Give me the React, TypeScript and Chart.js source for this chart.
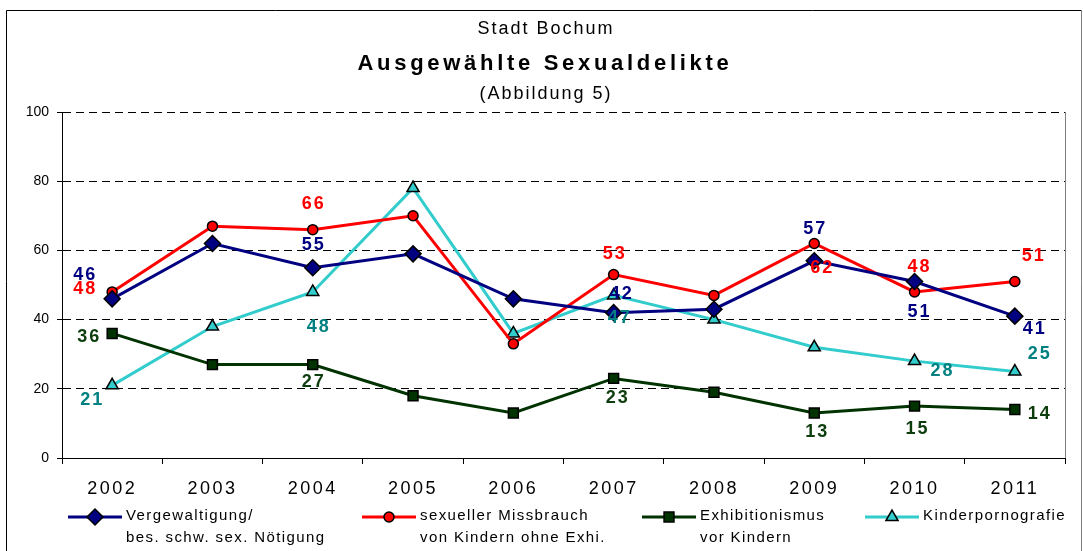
import React, { useEffect, useRef } from 'react';
import { Chart, registerables } from 'chart.js';
Chart.register(...registerables);

const years = ['2002', '2003', '2004', '2005', '2006', '2007', '2008', '2009', '2010', '2011'];
const vergewaltigung = [46, 62, 55, 59, 46, 42, 43, 57, 51, 41];
const missbrauch = [48, 67, 66, 70, 33, 53, 47, 62, 48, 51];
const exhibitionismus = [36, 27, 27, 18, 13, 23, 19, 13, 15, 14];
const kinderpornografie = [21, 38, 48, 78, 36, 47, 40, 32, 28, 25];
const yMin = 0;
const yMax = 100;
const yStep = 20;
const titleLines = ['Stadt Bochum', 'Ausgewählte Sexualdelikte', '(Abbildung 5)'];
const legendLabels = [
  ['Vergewaltigung/', 'bes. schw. sex. Nötigung'],
  ['sexueller Missbrauch', 'von Kindern ohne Exhi.'],
  ['Exhibitionismus', 'vor Kindern'],
  ['Kinderpornografie'],
];
// indices of points that carry a value label
const labelIdxBlue = [0, 2, 5, 7, 8, 9];
const labelIdxRed = [0, 2, 5, 7, 8, 9];
const labelIdxGreen = [0, 2, 5, 7, 8, 9];
const labelIdxCyan = [0, 2, 5, 8, 9];

const FONT = '"Liberation Sans", Arial, sans-serif';

// label placement (style): pixel offsets from the point
const offsBlue: Record<number, [number, number]> = { 0: [-28, -24], 2: [0, -23], 5: [7, -19], 7: [0, -32], 8: [4, 30], 9: [19, 13] };
const offsRed: Record<number, [number, number]> = { 0: [-28, -3], 2: [0, -26], 5: [0, -21], 7: [7, 25], 8: [4, -25], 9: [18, -26] };
const offsGreen: Record<number, [number, number]> = { 0: [-24, 4], 2: [0, 17], 5: [3, 20], 7: [2, 19], 8: [2, 23], 9: [24, 4] };
const offsCyan: Record<number, [number, number]> = { 0: [-21, 15], 2: [5, 35], 5: [5, 23], 8: [27, 10], 9: [24, -17] };

function drawMarker(ctx: CanvasRenderingContext2D, style: string, x: number, y: number, r: number, fill: string) {
  ctx.save();
  ctx.beginPath();
  if (style === 'rectRot') {
    ctx.moveTo(x, y - r); ctx.lineTo(x + r, y); ctx.lineTo(x, y + r); ctx.lineTo(x - r, y); ctx.closePath();
  } else if (style === 'circle') {
    ctx.arc(x, y, r, 0, Math.PI * 2);
  } else if (style === 'rect') {
    const s = r * Math.SQRT1_2;
    ctx.rect(x - s, y - s, 2 * s, 2 * s);
  } else if (style === 'triangle') {
    for (let k = 0; k < 3; k++) {
      const a = (k * 2 * Math.PI) / 3;
      const px = x + Math.sin(a) * r;
      const py = y - Math.cos(a) * r;
      if (k === 0) ctx.moveTo(px, py); else ctx.lineTo(px, py);
    }
    ctx.closePath();
  }
  ctx.fillStyle = fill;
  ctx.fill();
  ctx.lineWidth = 1.5;
  ctx.strokeStyle = '#000';
  ctx.stroke();
  ctx.restore();
}

const decorPlugin = {
  id: 'decor',
  afterLayout(chart: any) {
    const wrap = (scale: any, spacing: string) => {
      if (!scale || scale.__wrapped) return;
      const orig = scale.drawLabels.bind(scale);
      scale.drawLabels = (area: any) => {
        const c = chart.ctx as any;
        c.save();
        c.letterSpacing = spacing;
        orig(area);
        c.restore();
      };
      scale.__wrapped = true;
    };
    wrap(chart.scales.x, '2.5px');
  },
  afterDatasetsDraw(chart: any) {
    const ctx = chart.ctx as any;
    chart.data.datasets.forEach((ds: any, di: number) => {
      const meta = chart.getDatasetMeta(di);
      ctx.save();
      ctx.font = `bold 18px ${FONT}`;
      ctx.letterSpacing = '2px';
      ctx.fillStyle = ds.labelColor;
      ctx.textAlign = 'center';
      ctx.textBaseline = 'middle';
      (ds.labelIdx as number[]).forEach((i) => {
        const pt = meta.data[i];
        const off = ds.labelOffsets[i] || [0, -20];
        ctx.fillText(String(ds.data[i]), pt.x + off[0] + 1, pt.y + off[1]);
      });
      ctx.restore();
    });
  },
  afterDraw(chart: any) {
    const ctx = chart.ctx as any;
    const a = chart.chartArea;
    ctx.save();
    // outer frame
    ctx.strokeStyle = '#000';
    ctx.lineWidth = 1;
    ctx.beginPath();
    ctx.moveTo(6.5, 560); ctx.lineTo(6.5, 10.5); ctx.lineTo(1081.5, 10.5);
    ctx.stroke();
    ctx.strokeStyle = '#808080';
    ctx.beginPath();
    ctx.moveTo(1081.5, 10.5); ctx.lineTo(1081.5, 560);
    ctx.stroke();
    // plot right edge
    ctx.beginPath();
    ctx.moveTo(Math.round(a.right) + 0.5, a.top); ctx.lineTo(Math.round(a.right) + 0.5, a.bottom);
    ctx.stroke();

    // titles
    ctx.fillStyle = '#000';
    ctx.textAlign = 'center';
    ctx.textBaseline = 'middle';
    ctx.font = `18px ${FONT}`;
    ctx.letterSpacing = '2px';
    ctx.fillText(titleLines[0], 546, 29);
    ctx.font = `bold 22px ${FONT}`;
    ctx.letterSpacing = '3.7px';
    ctx.fillText(titleLines[1], 545, 64);
    ctx.font = `18px ${FONT}`;
    ctx.letterSpacing = '2px';
    ctx.fillText(titleLines[2], 546, 94);

    // legend
    const legendX = [68, 362, 642, 865];
    chart.data.datasets.forEach((ds: any, i: number) => {
      const x0 = legendX[i];
      const y0 = 517;
      ctx.strokeStyle = ds.borderColor;
      ctx.lineWidth = 3;
      ctx.beginPath();
      ctx.moveTo(x0, y0); ctx.lineTo(x0 + 54, y0);
      ctx.stroke();
      drawMarker(ctx, ds.pointStyle, x0 + 27, y0, ds.pointRadius, ds.pointBackgroundColor);
      ctx.fillStyle = '#000';
      ctx.textAlign = 'left';
      ctx.textBaseline = 'middle';
      ctx.font = `15px ${FONT}`;
      ctx.letterSpacing = '1.4px';
      legendLabels[i].forEach((t, k) => {
        ctx.fillText(t, x0 + 58, 516 + k * 22);
      });
    });
    ctx.restore();
  },
};

export default function App() {
  const ref = useRef<HTMLCanvasElement | null>(null);
  useEffect(() => {
    if (!ref.current) return;
    const chart = new Chart(ref.current, {
      type: 'line',
      data: {
        labels: years,
        datasets: [
          {
            label: legendLabels[0].join(' '),
            data: vergewaltigung,
            borderColor: '#000080',
            borderWidth: 3,
            pointStyle: 'rectRot',
            pointRadius: 8,
            pointBackgroundColor: '#000080',
            pointBorderColor: '#000',
            pointBorderWidth: 1.5,
            labelColor: '#000080',
            labelIdx: labelIdxBlue,
            labelOffsets: offsBlue,
          } as any,
          {
            label: legendLabels[1].join(' '),
            data: missbrauch,
            borderColor: '#ff0000',
            borderWidth: 3,
            pointStyle: 'circle',
            pointRadius: 5,
            pointBackgroundColor: '#ff0000',
            pointBorderColor: '#000',
            pointBorderWidth: 1.5,
            labelColor: '#ff0000',
            labelIdx: labelIdxRed,
            labelOffsets: offsRed,
          } as any,
          {
            label: legendLabels[2].join(' '),
            data: exhibitionismus,
            borderColor: '#003300',
            borderWidth: 3,
            pointStyle: 'rect',
            pointRadius: 7,
            pointBackgroundColor: '#003300',
            pointBorderColor: '#000',
            pointBorderWidth: 1.5,
            labelColor: '#0d3d0d',
            labelIdx: labelIdxGreen,
            labelOffsets: offsGreen,
          } as any,
          {
            label: legendLabels[3].join(' '),
            data: kinderpornografie,
            borderColor: '#33cccc',
            borderWidth: 3,
            pointStyle: 'triangle',
            pointRadius: 7,
            pointBackgroundColor: '#33cccc',
            pointBorderColor: '#000',
            pointBorderWidth: 1.5,
            labelColor: '#008080',
            labelIdx: labelIdxCyan,
            labelOffsets: offsCyan,
          } as any,
        ],
      },
      options: {
        responsive: false,
        animation: false,
        devicePixelRatio: 1,
        layout: { padding: { left: 0, right: 18, top: 112, bottom: 53 } },
        plugins: { legend: { display: false }, title: { display: false }, tooltip: { enabled: false } },
        elements: { line: { tension: 0 } },
        scales: {
          x: {
            type: 'category',
            offset: true,
            grid: {
              display: true,
              offset: true,
              drawOnChartArea: false,
              drawTicks: true,
              tickLength: 6,
              tickColor: '#000',
              color: '#000',
            },
            border: { display: true, color: '#000', width: 1 },
            ticks: { color: '#000', font: { family: FONT, size: 18 }, padding: 14, maxRotation: 0, autoSkip: false },
            afterFit: (s: any) => { s.height = 40; },
          },
          y: {
            min: yMin,
            max: yMax,
            grid: {
              color: '#000',
              lineWidth: 1,
              drawTicks: true,
              tickLength: 5,
              tickColor: '#000',
              tickBorderDash: [],
            },
            border: { display: true, color: '#000', width: 1, dash: [8, 5] },
            ticks: { stepSize: yStep, color: '#000', font: { family: FONT, size: 14 }, padding: 8 },
            afterFit: (s: any) => { s.width = 62; },
          },
        },
      } as any,
      plugins: [decorPlugin],
    });
    return () => chart.destroy();
  }, []);
  return (
    <div style={{ position: 'absolute', left: 0, top: 0, width: 1083, height: 551, background: '#fff' }}>
      <canvas ref={ref} width={1083} height={551} />
    </div>
  );
}
